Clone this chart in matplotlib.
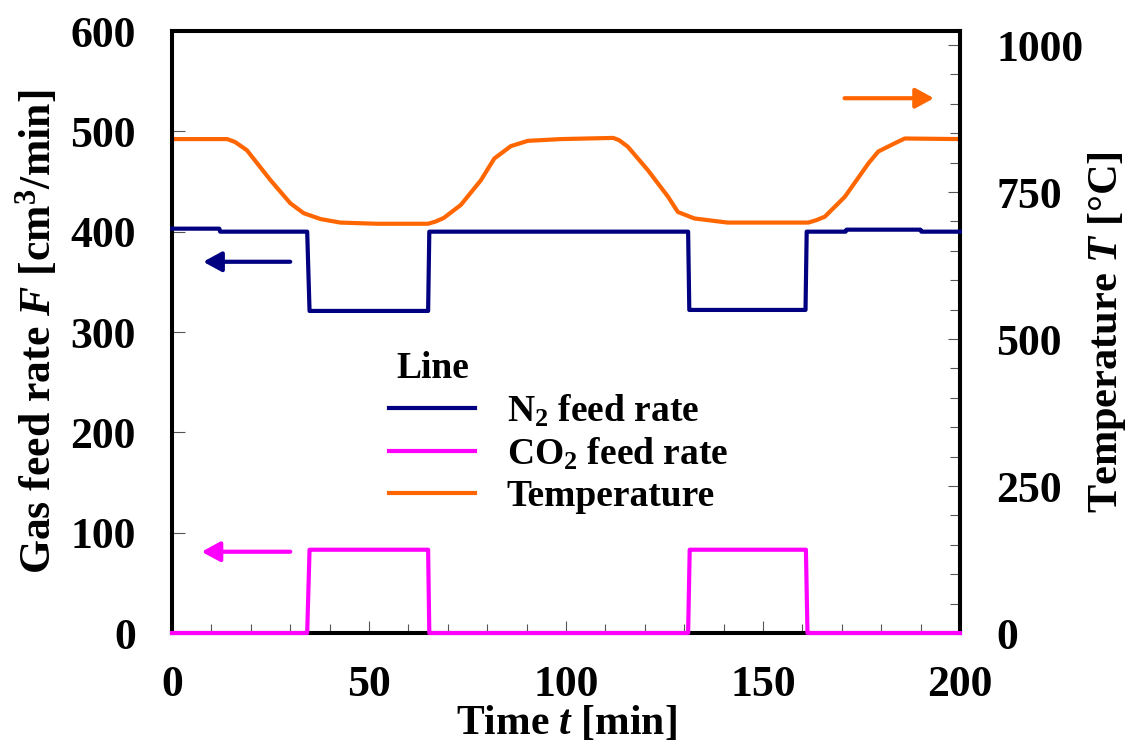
import numpy as np
import matplotlib
matplotlib.use("Agg")
import matplotlib.pyplot as plt
from matplotlib.ticker import MultipleLocator
from matplotlib.lines import Line2D

plt.rcParams['font.family'] = ['Liberation Serif', 'DejaVu Serif']
plt.rcParams['font.weight'] = 'bold'
plt.rcParams['mathtext.fontset'] = 'custom'
plt.rcParams['mathtext.rm'] = 'Liberation Serif:bold'
plt.rcParams['mathtext.bf'] = 'Liberation Serif:bold'
plt.rcParams['mathtext.it'] = 'Liberation Serif:bold:italic'

# gas feed rates [cm3/min]
n2_t = [0, 12, 12.2, 34.3, 34.9, 65.0, 65.3, 131.0, 131.3, 160.8, 161.1, 171, 171.2, 190, 190.2, 200]
n2_f = [403, 403, 400, 400, 321, 321, 400, 400, 322, 322, 400, 400, 402, 402, 400, 400]

co2_t = [0, 34.3, 34.9, 65.0, 65.3, 131.0, 131.4, 160.9, 161.3, 200]
co2_f = [0, 0, 83, 83, 0, 0, 83, 83, 0, 0]

# furnace temperature [C]
temp_t = [0, 14, 16, 19, 25, 30, 33.4, 37.7, 42.7, 52, 65, 67, 69, 73.3, 78.4, 81.8, 86, 90.3,
          98.7, 112, 113.5, 115.7, 120.8, 125.9, 128.4, 132.6, 141, 161.5, 163.5, 165.7, 170.8,
          176.8, 179.3, 183.5, 186, 200]
temp_v = [840, 840, 835, 821, 770, 731, 714, 704, 698, 696, 696, 700, 706, 728, 770, 807, 828,
          837, 840, 842, 838, 827, 787, 742, 716, 705, 698, 698, 702, 708, 742, 799, 819, 833,
          841, 840]

navy = '#000080'
magenta = '#ff00ff'
orange = '#ff6600'

fig = plt.figure(figsize=(11.32, 7.47), dpi=100)
ax = fig.add_axes([0.152, 0.1526, 0.696, 0.8059])
ax2 = ax.twinx()

lw = 3.0
ax.plot(n2_t, n2_f, color=navy, lw=lw, zorder=3, clip_on=False)
ax.plot(co2_t, co2_f, color=magenta, lw=lw, zorder=4, clip_on=False)
ax2.plot(temp_t, temp_v, color=orange, lw=lw, clip_on=False)

ax.set_xlim(0, 200)
ax.set_ylim(0, 600)
ax2.set_ylim(0, 1000 * 602 / 588)

# left axis above the twin so its lines sit on top
ax.set_zorder(ax2.get_zorder() + 1)
ax.patch.set_visible(False)

ax.xaxis.set_major_locator(MultipleLocator(50))
ax.xaxis.set_minor_locator(MultipleLocator(10))
ax.yaxis.set_major_locator(MultipleLocator(100))
ax2.yaxis.set_major_locator(MultipleLocator(250))
ax2.yaxis.set_minor_locator(MultipleLocator(50))

tick_fs = 31.5
ax.tick_params(axis='x', which='major', direction='in', length=9, width=0.8, color='#555555',
               pad=23, labelsize=tick_fs, top=False)
ax.tick_params(axis='x', which='minor', direction='in', length=6.5, width=0.8, color='#555555', top=False)
ax.tick_params(axis='y', which='major', direction='in', length=9.5, width=0.8, color='#555555',
               pad=26, labelsize=tick_fs, right=False)
ax2.tick_params(axis='y', which='major', direction='in', length=9, width=0.8, color='#555555',
                pad=26, labelsize=tick_fs)
ax2.tick_params(axis='y', which='minor', direction='in', length=7, width=0.8, color='#555555')
for a in (ax, ax2):
    for s in a.spines.values():
        s.set_linewidth(2.9)
    for lab in a.get_xticklabels() + a.get_yticklabels():
        lab.set_fontweight('bold')

ax.set_xlabel('Time $\\mathit{t}$ [min]', fontsize=30, fontweight='bold', va='center')
ax.xaxis.set_label_coords(0.501, -0.15)
ax.set_ylabel('Gas feed rate $\\mathit{F}$ [cm$^3$/min]', fontsize=31.5, fontweight='bold',
              va='center')
ax.yaxis.set_label_coords(-0.172, 0.5)
ax2.set_ylabel('Temperature $\\mathit{T}$ [°C]', fontsize=30.5, fontweight='bold', va='center')
ax2.yaxis.set_label_coords(1.187, 0.5)

# arrows pointing to the axis each curve belongs to
arrow = dict(arrowstyle='-|>,head_length=0.55,head_width=0.3', lw=3, mutation_scale=20,
             shrinkA=0, shrinkB=0)
ax.annotate('', xy=(7.9, 370), xytext=(30, 370), arrowprops=dict(arrow, color=navy))
ax.annotate('', xy=(7.5, 81), xytext=(30, 81), arrowprops=dict(arrow, color=magenta))
ax.annotate('', xy=(193.4, 533), xytext=(170.7, 533), arrowprops=dict(arrow, color=orange))

handles = [Line2D([], [], color=navy, lw=3),
           Line2D([], [], color=magenta, lw=3),
           Line2D([], [], color=orange, lw=3)]
labels = ['N$_2$ feed rate', 'CO$_2$ feed rate', 'Temperature']
leg = ax.legend(handles, labels, title='Line', frameon=False, fontsize=27,
                title_fontproperties={'size': 27, 'weight': 'bold'},
                handlelength=2.3, handletextpad=0.85, labelspacing=0.18,
                alignment='left', loc='upper left', bbox_to_anchor=(0.275, 0.468),
                borderpad=0, borderaxespad=0)
for t in leg.get_texts():
    t.set_fontweight('bold')
leg.get_title().set_position((8, 0))

fig.savefig('out.png', dpi=100)
